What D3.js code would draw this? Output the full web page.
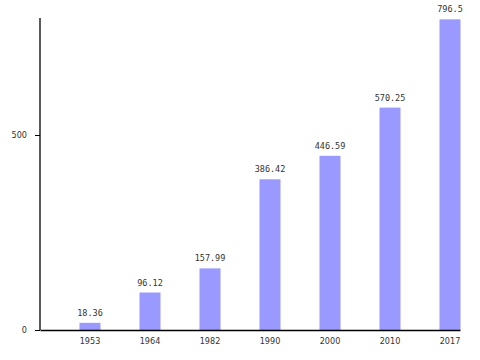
<!DOCTYPE html>
<html><head><meta charset="utf-8">
<script src="https://cdn.jsdelivr.net/npm/d3@7"></script>
<style>body{margin:0;background:#fff}</style>
</head><body>
<svg id="c" width="480" height="360"></svg>
<script>
const categories = ["1953","1964","1982","1990","2000","2010","2017"];
const values = [18.36, 96.12, 157.99, 386.42, 446.59, 570.25, 796.5];
const valueLabels = ["18.36","96.12","157.99","386.42","446.59","570.25","796.5"];
const yTicks = [0, 500];

const svg = d3.select("#c");
const mLeft = 40, mRight = 460, mTop = 18, mBottom = 330;
const x = d3.scaleBand().domain(categories).range([mLeft, mRight]).paddingInner(0).paddingOuter(0);
const y = d3.scaleLinear().domain([0, 800]).range([mBottom, mTop]);
const barW = 21;
const cx = d => x(d) + x.bandwidth() / 2 + 20;

svg.selectAll("rect.bar").data(values).enter().append("rect")
  .attr("x", (d, i) => cx(categories[i]) - barW / 2)
  .attr("y", d => y(d))
  .attr("width", barW)
  .attr("height", d => y(0) - y(d))
  .attr("fill", "#9999ff");

svg.selectAll("text.val").data(values).enter().append("text")
  .attr("x", (d, i) => cx(categories[i]))
  .attr("y", d => y(d) - 7)
  .attr("text-anchor", "middle")
  .attr("font-family", "DejaVu Sans Mono, monospace")
  .attr("font-size", "8.5px")
  .attr("fill", "#333")
  .text((d, i) => valueLabels[i]);

const yAxis = svg.append("g").attr("transform", `translate(${mLeft},0)`)
  .call(d3.axisLeft(y).tickValues(yTicks).tickSize(5).tickPadding(8).tickFormat(d3.format("d")));
yAxis.select(".domain").attr("d", `M0,${mTop}V${mBottom}`).attr("stroke", "#000").attr("stroke-width", 1.3);
yAxis.selectAll(".tick line").attr("stroke", "#000");
yAxis.selectAll("text").attr("font-family", "DejaVu Sans Condensed, DejaVu Sans, sans-serif").attr("font-size", "9px").attr("fill", "#333");

const xAxis = svg.append("g").attr("transform", `translate(0,${mBottom})`)
  .call(d3.axisBottom(x).tickSize(0).tickPadding(8));
xAxis.select(".domain").attr("stroke", "#000").attr("stroke-width", 1.3);
xAxis.selectAll(".tick").attr("transform", d => `translate(${cx(d)},0)`);
xAxis.selectAll("text").attr("font-family", "DejaVu Sans Condensed, DejaVu Sans, sans-serif").attr("font-size", "9px").attr("fill", "#333");
</script>
</body></html>
